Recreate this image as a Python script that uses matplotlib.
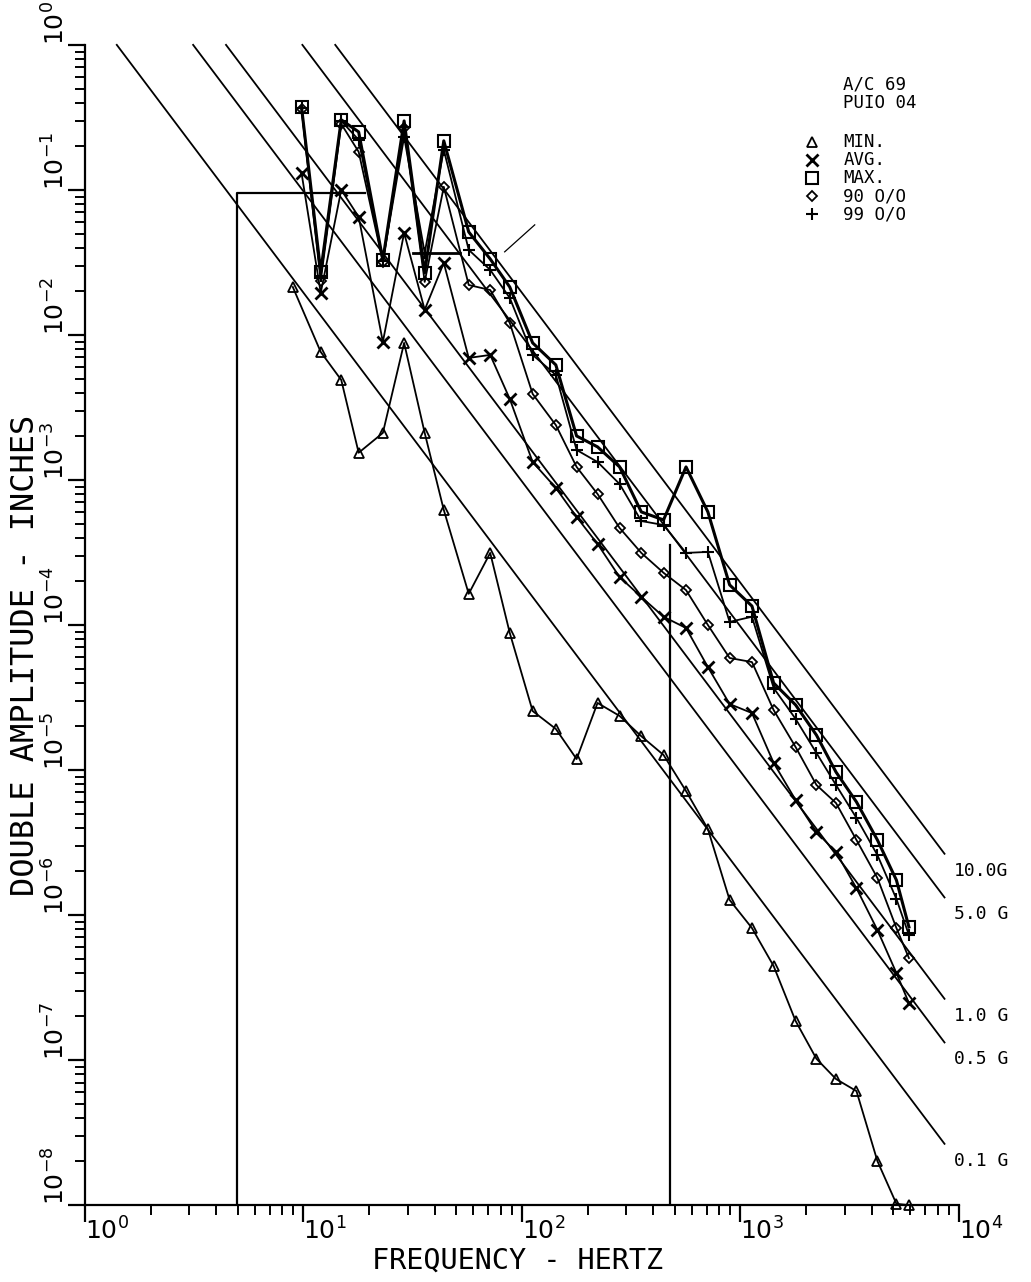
import numpy as np
import matplotlib.pyplot as plt
from matplotlib.ticker import LogLocator, NullFormatter

# полосы частот, Гц (общие для всех кривых, у MIN своя первая точка)
freq = [9.8, 12, 14.9, 17.9, 23.1, 28.9, 35.9, 43.9, 57.1, 71.6, 88, 112, 143, 178, 222,
        280, 352, 445, 564, 710, 893, 1130, 1420, 1790, 2230, 2740, 3400, 4240, 5180, 5910]
freq_min = [8.94] + freq[1:]

# двойная амплитуда, дюймы
amp_min = [2.14e-2, 7.63e-3, 4.89e-3, 1.54e-3, 2.11e-3, 8.81e-3, 2.11e-3, 6.21e-4, 1.64e-4, 3.14e-4,
           8.81e-5, 2.55e-5, 1.92e-5, 1.19e-5, 2.90e-5, 2.36e-5, 1.71e-5, 1.27e-5, 7.16e-6, 3.92e-6,
           1.27e-6, 8.13e-7, 4.45e-7, 1.86e-7, 1.02e-7, 7.40e-8, 6.11e-8, 2.01e-8, 1.02e-8, 1.0e-8]
amp_avg = [1.31e-1, 1.95e-2, 1.0e-1, 6.52e-2, 8.95e-3, 5.05e-2, 1.49e-2, 3.14e-2, 6.94e-3, 7.28e-3,
           3.62e-3, 1.33e-3, 8.81e-4, 5.56e-4, 3.62e-4, 2.14e-4, 1.56e-4, 1.14e-4, 9.53e-5, 5.13e-5,
           2.85e-5, 2.47e-5, 1.12e-5, 6.21e-6, 3.73e-6, 2.72e-6, 1.53e-6, 7.88e-7, 3.98e-7, 2.47e-7]
amp_max = [3.74e-1, 2.72e-2, 3.04e-1, 2.51e-1, 3.29e-2, 2.99e-1, 2.68e-2, 2.18e-1, 5.13e-2, 3.34e-2,
           2.14e-2, 8.81e-3, 6.21e-3, 2.01e-3, 1.69e-3, 1.23e-3, 6.02e-4, 5.30e-4, 1.23e-3, 6.02e-4,
           1.89e-4, 1.35e-4, 3.98e-5, 2.81e-5, 1.74e-5, 9.68e-6, 6.02e-6, 3.29e-6, 1.74e-6, 8.27e-7]
amp_90 = [3.62e-1, 2.36e-2, 2.85e-1, 1.83e-1, 3.19e-2, 2.68e-1, 2.32e-2, 1.05e-1, 2.21e-2, 2.04e-2,
          1.21e-2, 3.92e-3, 2.39e-3, 1.23e-3, 8.00e-4, 4.67e-4, 3.14e-4, 2.29e-4, 1.74e-4, 1.0e-4,
          5.92e-5, 5.55e-5, 2.59e-5, 1.44e-5, 7.88e-6, 5.92e-6, 3.29e-6, 1.80e-6, 8.13e-7, 5.05e-7]
amp_99 = [3.68e-1, 2.55e-2, 2.99e-1, 2.21e-1, 3.24e-2, 2.32e-1, 3.68e-2, 1.89e-1, 3.86e-2, 2.81e-2,
          1.80e-2, 7.28e-3, 5.30e-3, 1.61e-3, 1.33e-3, 9.38e-4, 5.21e-4, 4.89e-4, 3.14e-4, 3.19e-4,
          1.05e-4, 1.14e-4, 3.68e-5, 2.25e-5, 1.31e-5, 7.88e-6, 4.67e-6, 2.59e-6, 1.29e-6, 7.28e-7]

# линии постоянного ускорения
g_levels = [10.0, 5.0, 1.0, 0.5, 0.1]
g_labels = ['10.0G', '5.0 G', '1.0 G', '0.5 G', '0.1 G']
f_end = 8600

# огибающая и ручные пометки
env_left_f, env_top_amp, env_knee_f = 4.96, 0.0953, 19.1
env_right_f, env_right_amp = 474, 3.56e-4
mark_f, mark_amp = [31.7, 51.9], [0.0368, 0.0368]
stroke_f, stroke_amp = [83.4, 114.5], [0.0374, 0.0574]

mono = 'DejaVu Sans Mono'
plt.rcParams['font.family'] = ['DejaVu Sans']

fig = plt.figure(figsize=(10.31, 12.82), dpi=100)
ax = fig.add_axes([0.0824, 0.060, 0.8476, 0.905])
ax.set_xscale('log')
ax.set_yscale('log')
ax.set_xlim(1, 1e4)
ax.set_ylim(1e-8, 1)

k = 'black'
# линии G: D = 2 * a * 386.1 / (2 pi f)^2
for g, lab in zip(g_levels, g_labels):
    c = 2 * 386.1 * g / (2 * np.pi) ** 2
    f0 = np.sqrt(c)
    ff = np.array([f0, f_end])
    ax.plot(ff, c / ff ** 2, color=k, lw=1.3, clip_on=False)
    ax.annotate(lab, (f_end, c / f_end ** 2), xytext=(9, -17), textcoords='offset pixels',
                fontsize=13, family=mono, va='center', ha='left', annotation_clip=False)

ax.plot([env_left_f, env_left_f, env_knee_f], [1e-8, env_top_amp, env_top_amp], color=k, lw=1.6)
ax.plot([env_right_f, env_right_f], [1e-8, env_right_amp], color=k, lw=1.6)
ax.plot(mark_f, mark_amp, color=k, lw=2)
ax.plot(stroke_f, stroke_amp, color=k, lw=0.9)

ax.plot(freq_min, amp_min, color=k, lw=1.3, marker='^', ms=7, mfc='none', mew=1.3, clip_on=False)
ax.plot(freq, amp_avg, color=k, lw=1.3, marker='x', ms=8, mew=2)
ax.plot(freq, amp_90, color=k, lw=1.3, marker='D', ms=5.5, mfc='none', mew=1.3)
ax.plot(freq, amp_99, color=k, lw=1.3, marker='+', ms=9, mew=1.5)
ax.plot(freq, amp_max, color=k, lw=2.2, marker='s', ms=8, mfc='none', mew=1.5)

# оси
for s in ['top', 'right']:
    ax.spines[s].set_visible(False)
ax.spines['left'].set_linewidth(1.6)
ax.spines['bottom'].set_linewidth(1.6)
ax.xaxis.set_major_locator(LogLocator(base=10, numticks=10))
ax.xaxis.set_minor_locator(LogLocator(base=10, subs=np.arange(2, 10), numticks=10))
ax.yaxis.set_major_locator(LogLocator(base=10, numticks=12))
ax.yaxis.set_minor_locator(LogLocator(base=10, subs=np.arange(2, 10), numticks=12))
ax.xaxis.set_minor_formatter(NullFormatter())
ax.yaxis.set_minor_formatter(NullFormatter())
ax.tick_params(which='major', direction='out', length=12, width=1.6, color=k)
ax.tick_params(which='minor', direction='out', length=7, width=1.4, color=k)
ax.set_xticklabels([])
ax.set_yticklabels([])

for e in range(0, 5):
    ax.text(10 ** e, -0.011, '$10^{%d}$' % e, transform=ax.get_xaxis_transform(),
            ha='left', va='top', fontsize=18)
for e in range(0, -9, -1):
    ax.text(-0.017, 10 ** e, '$10^{%d}$' % e, transform=ax.get_yaxis_transform(),
            ha='left', va='bottom', rotation=90, rotation_mode='anchor', fontsize=18)

fig.text(0.502, 0.017, 'FREQUENCY - HERTZ', ha='center', va='center', fontsize=20.5, family=mono)
fig.text(0.025, 0.489, 'DOUBLE AMPLITUDE - INCHES', ha='center', va='center',
         rotation=90, fontsize=23, family=mono)

# легенда
lx_m, lx_t = 0.788, 0.818
fig.text(lx_t, 0.934, 'A/C 69', fontsize=12.5, va='center', family=mono)
fig.text(lx_t, 0.920, 'PUIO 04', fontsize=12.5, va='center', family=mono)
leg_rows = [('^', 'MIN.', dict(mfc='none', ms=7, mew=1.3)),
            ('x', 'AVG.', dict(ms=8, mew=2)),
            ('s', 'MAX.', dict(mfc='none', ms=8, mew=1.5)),
            ('D', '90 O/O', dict(mfc='none', ms=5.5, mew=1.3)),
            ('+', '99 O/O', dict(ms=9, mew=1.5))]
for i, (m, t, kw) in enumerate(leg_rows):
    yy = 0.889 - i * 0.014
    fig.lines.append(plt.Line2D([lx_m], [yy], marker=m, color=k, transform=fig.transFigure, **kw))
    fig.text(lx_t, yy, t, fontsize=12.5, va='center', family=mono)

fig.savefig('out.png', dpi=100)
